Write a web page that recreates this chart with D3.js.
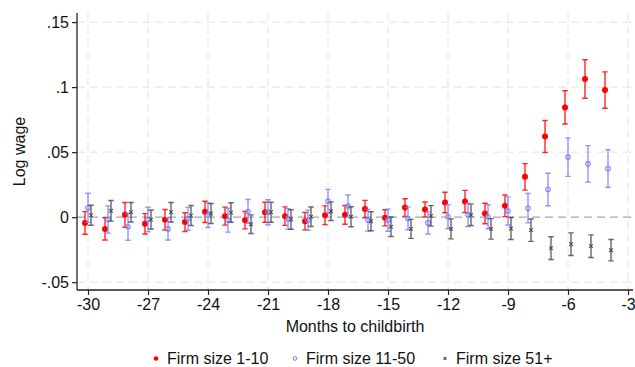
<!DOCTYPE html>
<html>
<head>
<meta charset="utf-8">
<script src="https://cdn.jsdelivr.net/npm/d3@7"></script>
<style>
  body { margin: 0; background: #fff; }
  text { font-family: "Liberation Sans", Arial, sans-serif; fill: #111; }
</style>
</head>
<body>
<svg id="chart"></svg>
<script>
// months relative to childbirth
var months = [-30, -29, -28, -27, -26, -25, -24, -23, -22, -21, -20, -19, -18, -17,
              -16, -15, -14, -13, -12, -11, -10, -9, -8, -7, -6, -5, -4];

// Firm size 1-10: point estimate and half-width of the CI
var smallEst = [-0.0044, -0.0090, 0.0018, -0.0051, -0.0020, -0.0038, 0.0041, 0.0008, -0.0023, 0.0038,
                0.0008, -0.0031, 0.0015, 0.0018, 0.0062, -0.0005, 0.0074, 0.0059, 0.0113, 0.0121,
                0.0028, 0.0087, 0.0310, 0.0620, 0.0844, 0.1062, 0.0977];
var smallCi  = [0.0087, 0.0085, 0.0095, 0.0078, 0.0079, 0.0072, 0.0082, 0.0069, 0.0067, 0.0077,
                0.0071, 0.0067, 0.0072, 0.0072, 0.0067, 0.0062, 0.0068, 0.0058, 0.0079, 0.0085,
                0.0079, 0.0083, 0.0102, 0.0123, 0.0128, 0.0148, 0.0140];

// Firm size 11-50
var midEst = [0.0072, -0.0018, -0.0074, -0.0018, -0.0090, -0.0013, 0.0015, -0.0023, 0.0044, 0.0038,
              -0.0013, -0.0023, 0.0123, 0.0085, -0.0023, -0.0023, -0.0010, -0.0044, 0.0003, 0.0018,
              0.0003, 0.0048, 0.0069, 0.0213, 0.0462, 0.0410, 0.0374];
var midCi  = [0.0112, 0.0105, 0.0104, 0.0094, 0.0086, 0.0088, 0.0094, 0.0092, 0.0092, 0.0096,
              0.0079, 0.0077, 0.0091, 0.0085, 0.0083, 0.0085, 0.0087, 0.0085, 0.0092, 0.0090,
              0.0092, 0.0108, 0.0113, 0.0125, 0.0148, 0.0140, 0.0144];

// Firm size 51+
var bigEst = [0.0015, 0.0049, 0.0038, -0.0018, 0.0038, 0.0013, 0.0028, 0.0036, -0.0054, 0.0038,
              -0.0018, 0.0003, 0.0046, 0.0003, -0.0031, -0.0074, -0.0090, 0.0010, -0.0090, 0.0018,
              -0.0090, -0.0087, -0.0100, -0.0238, -0.0208, -0.0223, -0.0254];
var bigCi  = [0.0077, 0.0079, 0.0075, 0.0073, 0.0075, 0.0077, 0.0077, 0.0075, 0.0072, 0.0077,
              0.0075, 0.0075, 0.0072, 0.0077, 0.0073, 0.0075, 0.0073, 0.0079, 0.0077, 0.0082,
              0.0079, 0.0085, 0.0086, 0.0087, 0.0087, 0.0087, 0.0082];

var xTicks = [-30, -27, -24, -21, -18, -15, -12, -9, -6, -3];
var xTickLabels = ["-30", "-27", "-24", "-21", "-18", "-15", "-12", "-9", "-6", "-3"];
var yTicks = [-0.05, 0, 0.05, 0.1, 0.15];
var yTickLabels = ["-.05", "0", ".05", ".1", ".15"];

var width = 635, height = 367;
var plot = {left: 77, right: 633, top: 13, bottom: 290};

var svg = d3.select("#chart")
    .attr("width", width)
    .attr("height", height);

svg.append("rect")
    .attr("width", width)
    .attr("height", height)
    .attr("fill", "#fff");

var x = d3.scaleLinear()
    .domain([-30.55, -2.75])
    .range([plot.left, plot.right]);

var y = d3.scaleLinear()
    .domain([-0.056, 0.157])
    .range([plot.bottom, plot.top]);

// grid lines
svg.append("g")
    .selectAll("line")
    .data(xTicks)
    .enter().append("line")
    .attr("x1", function(d) { return x(d); })
    .attr("x2", function(d) { return x(d); })
    .attr("y1", plot.top)
    .attr("y2", plot.bottom)
    .attr("stroke", "#e8e8e8")
    .attr("stroke-width", 1.2)
    .attr("stroke-dasharray", "8,5");

svg.append("g")
    .selectAll("line")
    .data(yTicks.filter(function(d) { return d !== 0; }))
    .enter().append("line")
    .attr("x1", plot.left)
    .attr("x2", plot.right)
    .attr("y1", function(d) { return y(d); })
    .attr("y2", function(d) { return y(d); })
    .attr("stroke", "#e8e8e8")
    .attr("stroke-width", 1.2)
    .attr("stroke-dasharray", "8,5");

// zero reference line
svg.append("line")
    .attr("x1", plot.left)
    .attr("x2", plot.right)
    .attr("y1", y(0))
    .attr("y2", y(0))
    .attr("stroke", "#a8a8a8")
    .attr("stroke-width", 1.4)
    .attr("stroke-dasharray", "8,5");

// axes
var yAxis = d3.axisLeft(y)
    .tickValues(yTicks)
    .tickSize(5)
    .tickPadding(3)
    .tickFormat(function(d, i) { return yTickLabels[i]; });

var xAxis = d3.axisBottom(x)
    .tickValues(xTicks)
    .tickSize(5)
    .tickPadding(4)
    .tickFormat(function(d, i) { return xTickLabels[i]; });

var gy = svg.append("g")
    .attr("transform", "translate(" + plot.left + ",0)")
    .call(yAxis);

var gx = svg.append("g")
    .attr("transform", "translate(0," + plot.bottom + ")")
    .call(xAxis);

[gx, gy].forEach(function(g) {
  g.select(".domain").attr("stroke", "#222").attr("stroke-width", 1.3);
  g.selectAll(".tick line").attr("stroke", "#222").attr("stroke-width", 1.2);
  g.selectAll(".tick text")
    .attr("font-family", "'Liberation Sans', Arial, sans-serif")
    .attr("font-size", 16)
    .attr("fill", "#111");
});
gy.select(".domain").attr("d", "M0," + plot.top + "V" + plot.bottom);
gx.select(".domain").attr("d", "M" + plot.left + ",0H" + plot.right);

// axis titles
svg.append("text")
    .attr("x", (plot.left + plot.right) / 2)
    .attr("y", 332)
    .attr("text-anchor", "middle")
    .attr("font-size", 16)
    .text("Months to childbirth");

svg.append("text")
    .attr("transform", "translate(25," + (plot.top + plot.bottom) / 2 + ") rotate(-90)")
    .attr("text-anchor", "middle")
    .attr("font-size", 16)
    .text("Log wage");

// series
var series = [
  {name: "Firm size 1-10", est: smallEst, ci: smallCi, offset: -0.15, color: "#ff0000", marker: "dot"},
  {name: "Firm size 11-50", est: midEst, ci: midCi, offset: 0, color: "#8080ff", marker: "ring"},
  {name: "Firm size 51+", est: bigEst, ci: bigCi, offset: 0.15, color: "#4a4a4a", marker: "cross"}
];

function drawMarker(g, kind, color, r) {
  if (kind === "dot") {
    g.append("circle").attr("r", r).attr("fill", color);
  } else if (kind === "ring") {
    g.append("circle").attr("r", r * 0.75).attr("fill", "none")
      .attr("stroke", color).attr("stroke-width", 1.1);
  } else {
    var s = r * 0.6;
    g.append("path")
      .attr("d", "M" + (-s) + "," + (-s) + "L" + s + "," + s + "M" + (-s) + "," + s + "L" + s + "," + (-s))
      .attr("stroke", color).attr("stroke-width", 1.1);
  }
}

series.forEach(function(s) {
  var rows = months.map(function(m, i) {
    return {m: m + s.offset, est: s.est[i], lo: s.est[i] - s.ci[i], hi: s.est[i] + s.ci[i]};
  });

  var g = svg.append("g");
  var cap = 2.7;

  g.selectAll(".bar")
    .data(rows)
    .enter().append("path")
    .attr("d", function(d) {
      var cx = x(d.m), y0 = y(d.lo), y1 = y(d.hi);
      return "M" + (cx - cap) + "," + y1 + "H" + (cx + cap) +
             "M" + cx + "," + y1 + "V" + y0 +
             "M" + (cx - cap) + "," + y0 + "H" + (cx + cap);
    })
    .attr("fill", "none")
    .attr("stroke", s.color)
    .attr("stroke-opacity", 0.85)
    .attr("stroke-width", 1.4);

  g.selectAll(".pt")
    .data(rows)
    .enter().append("g")
    .attr("transform", function(d) { return "translate(" + x(d.m) + "," + y(d.est) + ")"; })
    .each(function() { drawMarker(d3.select(this), s.marker, s.color, 3); });
});

// legend
var legendX = [156, 295, 445];
series.forEach(function(s, i) {
  var lg = svg.append("g").attr("transform", "translate(" + legendX[i] + ",358.5)");
  drawMarker(lg, s.marker, s.color, 2.3);
  lg.append("text")
    .attr("x", 11)
    .attr("y", 5)
    .attr("font-size", 16)
    .text(s.name);
});
</script>
</body>
</html>
